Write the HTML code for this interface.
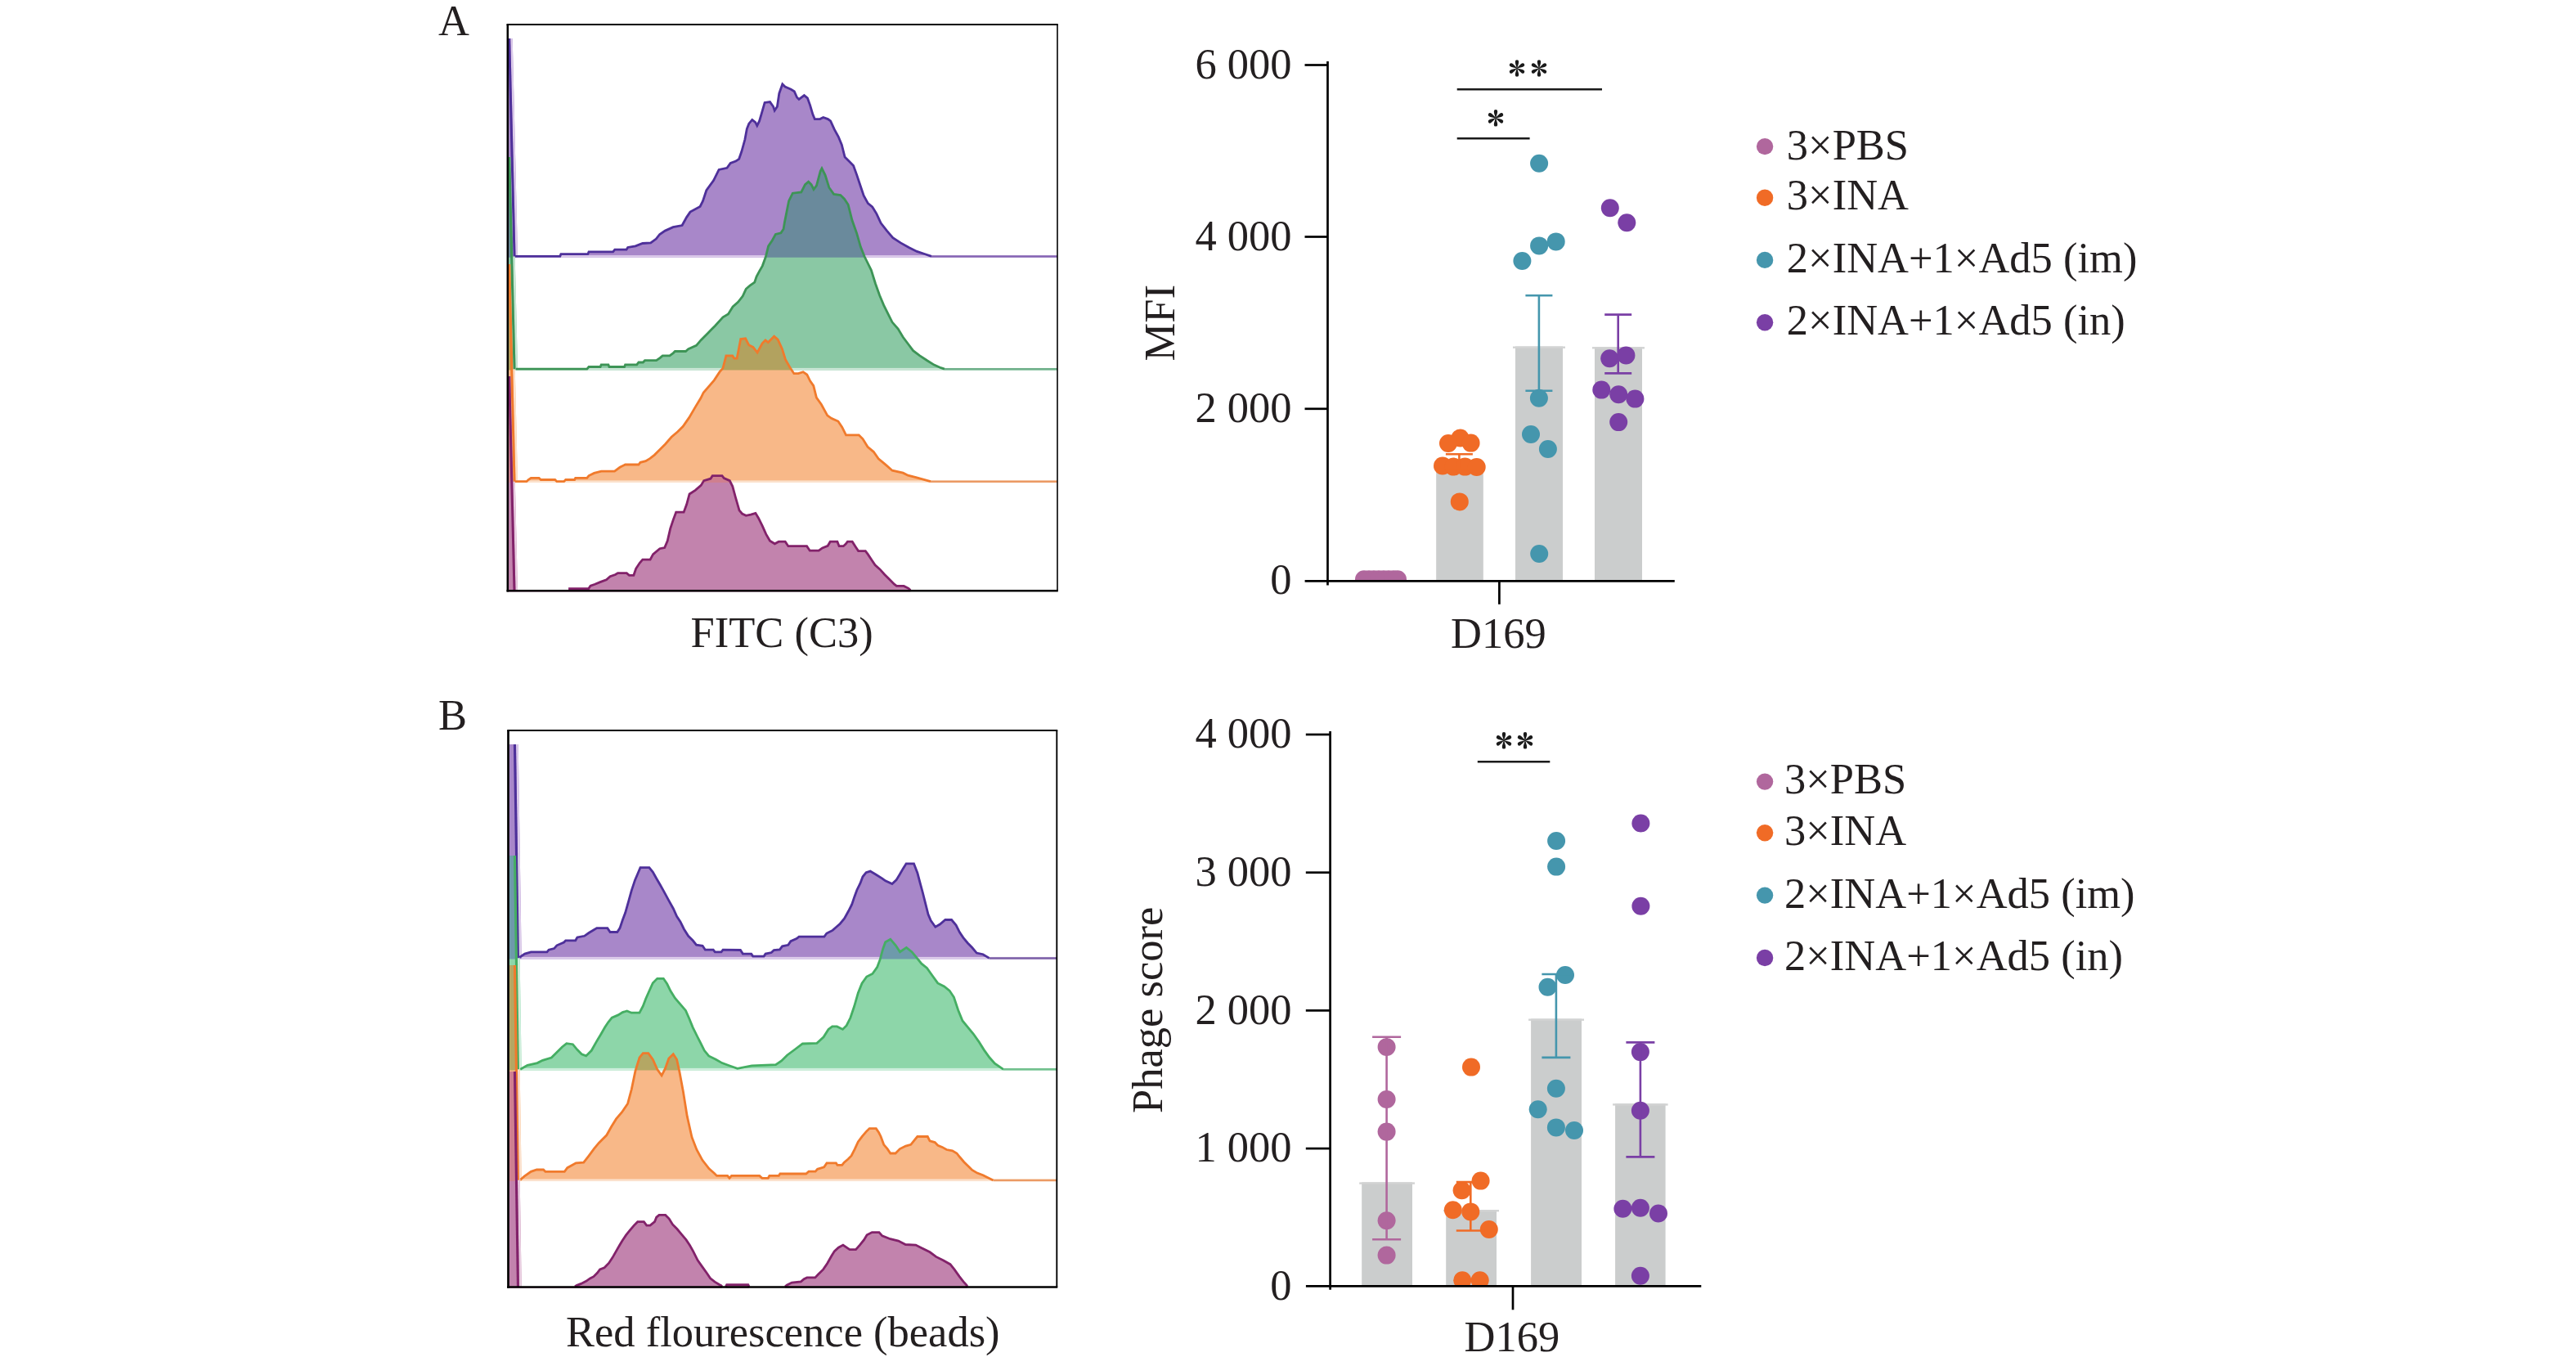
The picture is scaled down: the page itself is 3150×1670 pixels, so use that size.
<!DOCTYPE html>
<html><head><meta charset="utf-8"><style>
html,body{margin:0;padding:0;background:#fff;}
svg{display:block;}
text{font-family:"Liberation Serif", serif;fill:#231f20;}
</style></head><body>
<svg width="3150" height="1670" viewBox="0 0 3150 1670">
<defs><clipPath id="Ac0"><path d="M621.8,314.7 L621.8,47.0 L626.7,47.0 L633.0,313.4 L684.8,313.4 L685.9,310.7 L718.8,310.7 L720.0,307.9 L749.6,307.9 L751.8,305.2 L766.0,305.2 L767.7,302.4 L777.0,300.8 L785.8,297.5 L795.7,296.9 L802.3,292.0 L806.7,286.5 L813.3,282.1 L823.1,277.7 L834.1,275.5 L839.6,265.6 L844.0,259.1 L856.1,252.5 L859.4,245.9 L863.8,232.7 L872.6,220.6 L879.1,207.5 L889.0,205.3 L893.2,199.5 L899.7,197.1 L903.7,194.3 L906.9,185.0 L910.9,170.5 L913.3,157.6 L915.8,151.2 L919.8,146.4 L923.8,149.6 L925.8,153.6 L928.6,148.0 L931.9,136.7 L935.1,125.4 L941.5,124.6 L945.6,130.3 L947.2,135.1 L950.4,130.3 L952.8,114.2 L956.8,102.9 L960.0,106.1 L967.3,109.3 L971.3,111.7 L974.5,119.0 L977.0,121.4 L983.4,116.6 L987.4,119.8 L990.6,128.6 L993.9,139.9 L996.3,145.6 L1002.7,145.6 L1006.7,143.5 L1012.4,145.6 L1015.6,148.0 L1020.4,158.4 L1025.3,167.3 L1029.3,177.0 L1033.1,192.1 L1038.4,197.3 L1043.6,202.6 L1047.8,214.1 L1052.0,226.7 L1056.2,239.3 L1061.4,248.7 L1066.7,252.9 L1071.9,261.3 L1077.2,272.8 L1084.5,282.2 L1091.8,290.6 L1101.3,296.9 L1111.8,302.7 L1121.2,307.4 L1130.6,310.5 L1139.0,313.4 L1293.0,313.4 L1293.0,314.7Z"/></clipPath><clipPath id="Ac1"><path d="M621.8,452.5 L621.8,192.0 L626.7,192.0 L633.0,451.2 L717.8,451.2 L720.0,448.5 L734.1,448.5 L735.2,445.8 L743.9,445.8 L745.0,448.5 L763.5,448.5 L764.6,445.8 L778.7,445.8 L780.9,443.0 L786.3,443.0 L788.5,440.7 L802.6,440.7 L807.0,437.6 L810.2,434.9 L818.9,434.9 L823.3,431.6 L825.4,429.5 L838.5,429.5 L841.7,426.7 L851.5,422.4 L857.0,415.9 L865.7,407.2 L870.0,402.8 L874.3,398.5 L884.0,387.9 L890.5,383.9 L896.1,375.0 L902.5,369.4 L908.2,362.1 L912.2,353.3 L917.0,349.2 L922.7,345.2 L925.1,338.0 L929.1,330.7 L932.3,325.1 L936.4,313.8 L939.6,300.9 L944.4,293.7 L948.4,286.4 L954.9,284.8 L958.1,280.0 L959.3,272.5 L964.6,245.6 L969.3,236.2 L979.8,235.0 L984.5,225.7 L988.6,222.2 L992.1,225.7 L995.0,231.5 L998.5,226.8 L1003.2,209.3 L1005.0,205.8 L1009.1,214.0 L1013.8,229.2 L1019.6,237.4 L1027.8,238.5 L1032.5,243.2 L1037.2,250.3 L1041.9,269.0 L1047.7,285.4 L1052.4,301.8 L1057.1,313.5 L1060.3,320.0 L1065.4,330.3 L1070.5,346.7 L1075.6,361.0 L1080.8,373.3 L1085.9,383.6 L1091.0,393.8 L1098.2,402.0 L1104.3,412.3 L1110.5,420.5 L1116.6,428.7 L1124.8,434.8 L1134.1,441.0 L1142.3,446.1 L1150.5,449.7 L1155.0,451.2 L1293.0,451.2 L1293.0,452.5Z"/></clipPath><clipPath id="Ac2"><path d="M621.8,590.0 L621.8,323.0 L626.7,323.0 L633.0,588.7 L643.9,588.7 L646.1,586.5 L649.3,584.3 L659.1,584.3 L661.3,586.5 L678.7,586.5 L680.9,588.7 L689.6,588.7 L691.7,586.5 L702.6,586.5 L703.7,584.3 L717.8,584.3 L720.0,581.6 L726.5,578.4 L735.2,576.2 L751.5,576.2 L758.0,571.3 L764.6,568.0 L780.9,568.0 L783.0,565.3 L789.6,563.7 L795.0,560.4 L800.4,556.1 L807.0,549.6 L813.5,543.0 L821.1,534.3 L828.7,527.8 L835.2,521.3 L842.8,510.4 L850.4,497.4 L857.0,486.5 L860.2,480.0 L873.3,464.8 L880.0,454.7 L884.0,450.1 L887.9,434.9 L895.8,434.9 L897.8,438.2 L901.1,438.2 L905.7,414.5 L911.6,413.8 L915.6,421.7 L920.9,424.4 L926.1,431.0 L932.1,419.8 L936.0,415.8 L939.3,418.5 L946.6,411.2 L951.2,415.2 L956.4,426.4 L960.4,439.5 L965.7,448.8 L970.9,456.7 L976.2,456.7 L982.1,454.7 L986.8,458.0 L990.7,465.9 L994.8,471.7 L998.4,486.1 L1004.4,494.5 L1011.7,507.8 L1016.5,511.4 L1024.9,515.0 L1029.7,522.2 L1034.5,531.8 L1050.2,531.8 L1055.0,536.6 L1061.0,546.3 L1068.2,552.3 L1074.2,560.7 L1082.7,567.9 L1091.1,575.2 L1104.3,578.2 L1110.3,581.2 L1120.0,583.6 L1138.0,588.7 L1293.0,588.7 L1293.0,590.0Z"/></clipPath><clipPath id="Ac3"><path d="M621.8,723.6 L621.8,460.0 L626.7,460.0 L633.0,722.3 L696.5,721.5 L696.5,719.6 L719.8,719.6 L722.1,716.1 L727.5,714.2 L734.5,711.4 L741.5,708.7 L746.1,704.8 L752.4,702.5 L755.5,700.6 L766.3,700.6 L769.4,703.3 L774.9,703.3 L777.6,695.3 L782.2,688.3 L785.8,684.2 L795.1,684.2 L798.6,677.7 L806.8,670.7 L812.7,669.5 L816.2,661.3 L819.7,646.1 L823.2,635.6 L826.7,626.2 L836.1,626.2 L839.6,616.8 L843.1,604.0 L850.2,599.3 L857.2,593.4 L860.7,587.6 L868.9,585.2 L871.2,581.7 L883.0,581.7 L885.3,584.6 L892.3,587.6 L895.8,594.6 L899.3,607.5 L904.0,623.9 L907.5,628.0 L912.2,630.3 L918.1,629.1 L923.9,627.4 L927.4,633.2 L932.1,642.6 L936.8,653.1 L941.5,661.3 L947.4,664.8 L952.2,662.2 L960.2,662.2 L963.9,667.7 L986.6,667.7 L990.3,673.2 L1001.2,673.2 L1005.6,669.9 L1012.2,667.3 L1015.2,662.2 L1023.9,662.2 L1026.1,667.7 L1031.3,667.7 L1034.2,665.1 L1036.4,662.2 L1042.2,662.2 L1045.9,668.1 L1049.6,673.6 L1058.3,673.6 L1061.3,677.6 L1065.7,684.2 L1070.1,690.8 L1075.9,695.9 L1081.8,702.5 L1087.6,708.3 L1093.5,714.2 L1096.4,716.4 L1105.2,716.4 L1111.0,719.3 L1113.3,721.5 L1113.3,723.6Z"/></clipPath><clipPath id="Bc0"><path d="M622.5,1172.5 L622.5,910.0 L633.7,910.0 L637.7,1171.2 L641.7,1166.1 L649.3,1163.9 L668.9,1163.9 L671.1,1161.2 L677.6,1159.6 L680.9,1155.8 L689.6,1152.0 L691.7,1149.8 L703.7,1149.8 L705.9,1146.0 L714.6,1144.3 L720.0,1140.5 L725.4,1137.3 L729.8,1134.6 L742.8,1134.6 L746.1,1139.5 L754.8,1139.5 L758.0,1134.6 L761.3,1124.8 L764.6,1116.1 L768.9,1100.9 L772.2,1088.9 L776.5,1075.9 L779.8,1068.3 L783.0,1060.7 L793.9,1060.7 L798.3,1066.1 L802.6,1073.7 L807.0,1081.3 L811.3,1088.9 L817.8,1100.9 L823.3,1110.7 L827.6,1120.4 L832.0,1127.0 L836.3,1135.7 L841.7,1144.3 L847.2,1149.8 L851.5,1155.2 L859.1,1156.3 L862.4,1161.2 L872.2,1161.2 L874.3,1163.9 L882.0,1163.9 L884.1,1161.2 L905.4,1161.5 L908.4,1166.1 L918.7,1166.1 L920.7,1169.1 L934.1,1169.1 L936.1,1166.1 L943.3,1164.5 L946.4,1161.5 L953.5,1160.9 L956.6,1156.8 L963.8,1155.3 L966.9,1150.7 L974.0,1147.6 L977.1,1145.1 L1007.9,1145.1 L1010.9,1141.0 L1018.1,1137.4 L1022.2,1133.8 L1027.3,1129.2 L1032.5,1123.0 L1037.6,1113.8 L1041.7,1105.6 L1044.8,1096.4 L1047.8,1088.2 L1051.9,1080.0 L1055.0,1071.8 L1059.1,1066.6 L1064.2,1065.1 L1070.4,1068.7 L1078.6,1073.8 L1082.7,1076.9 L1090.9,1080.5 L1096.0,1075.9 L1099.9,1069.5 L1104.3,1061.9 L1108.1,1055.8 L1117.5,1055.8 L1121.9,1067.3 L1125.1,1079.4 L1128.4,1091.5 L1131.7,1104.7 L1135.0,1117.9 L1138.3,1125.6 L1143.8,1133.2 L1149.3,1130.0 L1155.9,1124.5 L1163.6,1124.5 L1169.1,1131.0 L1173.5,1139.8 L1177.9,1146.4 L1183.4,1153.0 L1188.8,1158.5 L1194.3,1165.1 L1202.0,1166.7 L1209.7,1171.4 L1292.5,1171.4 L1292.5,1172.5Z"/></clipPath><clipPath id="Bc1"><path d="M622.5,1308.5 L622.5,1046.0 L633.7,1046.0 L637.7,1307.2 L645.0,1302.3 L657.0,1299.6 L663.5,1296.3 L674.3,1293.0 L680.9,1286.5 L687.4,1280.0 L692.8,1275.7 L700.4,1276.7 L705.9,1283.3 L711.3,1288.7 L716.7,1290.9 L723.3,1284.3 L728.7,1274.6 L735.2,1263.7 L739.6,1256.1 L743.9,1249.6 L748.3,1244.1 L755.9,1240.9 L761.3,1237.6 L766.7,1236.0 L772.2,1238.2 L782.0,1238.2 L786.3,1230.0 L789.6,1221.3 L793.9,1211.5 L798.3,1201.7 L803.7,1196.3 L811.3,1196.3 L815.7,1202.8 L820.0,1211.5 L825.4,1220.2 L832.0,1227.8 L838.5,1235.4 L842.8,1245.2 L847.2,1256.1 L852.6,1267.0 L857.0,1275.7 L861.3,1284.3 L866.7,1290.9 L875.4,1295.2 L883.0,1299.6 L891.7,1302.8 L901.7,1306.4 L919.3,1302.9 L948.6,1301.7 L955.6,1297.0 L962.6,1290.0 L972.0,1283.0 L981.4,1276.0 L998.9,1275.4 L1007.1,1267.8 L1013.0,1258.4 L1017.7,1254.9 L1023.5,1254.9 L1030.5,1258.4 L1035.2,1253.7 L1039.9,1244.3 L1044.6,1230.3 L1049.3,1213.9 L1054.0,1202.2 L1059.8,1194.0 L1066.9,1190.5 L1072.7,1182.3 L1076.2,1172.9 L1079.7,1160.0 L1082.7,1151.7 L1088.8,1148.2 L1095.3,1155.8 L1100.5,1163.7 L1108.4,1158.4 L1115.0,1163.7 L1121.6,1171.6 L1126.9,1178.2 L1133.5,1183.5 L1140.1,1192.7 L1146.7,1201.9 L1154.6,1205.9 L1161.1,1211.1 L1166.4,1219.1 L1171.7,1234.9 L1177.0,1248.0 L1183.5,1255.9 L1190.1,1263.8 L1196.7,1273.1 L1203.3,1283.6 L1209.9,1292.8 L1216.5,1300.1 L1227.0,1307.3 L1292.5,1307.3 L1292.5,1308.5Z"/></clipPath><clipPath id="Bc2"><path d="M622.5,1444.1 L622.5,1180.0 L633.7,1180.0 L637.7,1442.8 L641.1,1438.2 L649.3,1432.3 L656.3,1430.0 L664.5,1430.0 L666.9,1432.3 L690.3,1432.3 L693.8,1427.7 L704.3,1421.8 L713.7,1421.2 L719.6,1413.6 L726.6,1404.2 L732.4,1397.2 L741.8,1387.8 L747.7,1377.3 L753.5,1367.9 L760.5,1359.7 L767.6,1349.2 L772.3,1331.6 L776.9,1309.4 L782.0,1293.0 L786.3,1287.6 L792.8,1287.6 L798.3,1295.2 L803.7,1307.2 L809.1,1314.8 L813.5,1306.1 L817.8,1294.1 L823.3,1288.7 L827.6,1295.2 L830.9,1310.4 L835.5,1335.1 L840.2,1364.4 L846.0,1390.2 L851.9,1405.4 L858.9,1418.3 L867.1,1428.8 L873.3,1434.2 L876.5,1437.4 L889.6,1437.4 L892.0,1440.3 L894.5,1437.4 L928.7,1437.4 L931.9,1440.3 L939.3,1440.3 L940.9,1437.4 L952.3,1437.4 L953.9,1435.0 L985.7,1435.0 L989.0,1432.1 L997.1,1432.1 L999.6,1429.3 L1007.7,1426.8 L1011.0,1421.9 L1022.4,1421.9 L1024.0,1424.4 L1029.7,1424.4 L1032.2,1421.1 L1037.1,1417.0 L1041.1,1413.0 L1045.2,1404.8 L1049.3,1395.9 L1054.2,1389.3 L1059.1,1383.6 L1063.2,1379.6 L1071.3,1379.6 L1074.6,1384.4 L1077.1,1389.5 L1080.7,1399.3 L1085.2,1404.6 L1088.8,1410.0 L1095.0,1410.0 L1100.4,1404.6 L1107.5,1401.1 L1113.8,1399.3 L1118.2,1393.9 L1121.8,1389.5 L1134.3,1389.5 L1137.0,1394.8 L1143.2,1396.6 L1146.8,1400.2 L1152.1,1402.4 L1157.5,1405.5 L1164.6,1406.9 L1170.0,1410.0 L1173.6,1414.5 L1178.9,1420.7 L1184.3,1426.1 L1188.8,1430.5 L1195.0,1434.1 L1202.1,1436.8 L1207.5,1439.5 L1214.6,1443.0 L1292.3,1443.0 L1292.3,1444.1Z"/></clipPath><clipPath id="Bc3"><path d="M622.5,1574.8 L622.5,1310.0 L633.7,1310.0 L637.7,1573.5 L703.0,1573.0 L705.0,1571.6 L710.5,1569.4 L717.1,1566.1 L721.5,1562.9 L725.9,1560.7 L730.3,1556.3 L733.6,1551.9 L739.1,1549.7 L744.5,1544.2 L748.9,1537.6 L753.3,1529.9 L757.7,1522.2 L761.0,1516.7 L765.4,1510.1 L769.8,1504.7 L775.3,1498.1 L779.7,1493.7 L787.4,1493.7 L790.7,1498.1 L795.0,1498.1 L800.5,1493.7 L802.7,1488.2 L806.0,1485.4 L813.7,1485.4 L818.1,1489.8 L822.5,1497.0 L828.0,1502.5 L833.5,1509.1 L839.0,1515.6 L843.4,1522.2 L847.7,1529.9 L853.2,1540.9 L858.7,1548.6 L864.2,1556.3 L868.6,1562.9 L874.1,1567.2 L879.6,1570.5 L881.8,1571.6 L883.0,1573.0 L883.0,1574.8Z M887.5,1574.8 L887.5,1573.0 L888.7,1570.6 L914.8,1570.6 L916.0,1573.0 L916.0,1574.8Z M960.0,1574.8 L960.0,1573.0 L962.0,1571.2 L968.2,1568.1 L979.4,1566.8 L983.1,1563.7 L986.8,1561.9 L996.8,1561.9 L1000.5,1558.1 L1006.7,1551.9 L1011.7,1544.5 L1016.6,1535.8 L1020.4,1529.6 L1025.3,1525.2 L1030.9,1522.1 L1035.3,1525.2 L1039.0,1527.7 L1046.5,1527.7 L1051.4,1522.1 L1056.4,1515.9 L1060.1,1509.7 L1066.3,1506.6 L1075.0,1506.6 L1078.8,1510.9 L1088.7,1514.7 L1098.6,1517.1 L1107.3,1521.5 L1119.8,1522.1 L1126.0,1525.2 L1137.1,1530.8 L1144.6,1536.4 L1153.3,1540.7 L1162.0,1545.7 L1167.0,1551.9 L1173.2,1560.6 L1178.1,1566.8 L1181.9,1571.2 L1183.0,1573.0 L1183.0,1574.8Z"/></clipPath><clipPath id="pinkclipA"><rect x="1600" y="600" width="200" height="110.5"/></clipPath><clipPath id="clipB"><rect x="1600" y="850" width="500" height="722.5"/></clipPath></defs>
<rect width="3150" height="1670" fill="#fff"/>
<polygon points="621.8,314.7 621.8,47.0 626.7,47.0 633.0,313.4 684.8,313.4 685.9,310.7 718.8,310.7 720.0,307.9 749.6,307.9 751.8,305.2 766.0,305.2 767.7,302.4 777.0,300.8 785.8,297.5 795.7,296.9 802.3,292.0 806.7,286.5 813.3,282.1 823.1,277.7 834.1,275.5 839.6,265.6 844.0,259.1 856.1,252.5 859.4,245.9 863.8,232.7 872.6,220.6 879.1,207.5 889.0,205.3 893.2,199.5 899.7,197.1 903.7,194.3 906.9,185.0 910.9,170.5 913.3,157.6 915.8,151.2 919.8,146.4 923.8,149.6 925.8,153.6 928.6,148.0 931.9,136.7 935.1,125.4 941.5,124.6 945.6,130.3 947.2,135.1 950.4,130.3 952.8,114.2 956.8,102.9 960.0,106.1 967.3,109.3 971.3,111.7 974.5,119.0 977.0,121.4 983.4,116.6 987.4,119.8 990.6,128.6 993.9,139.9 996.3,145.6 1002.7,145.6 1006.7,143.5 1012.4,145.6 1015.6,148.0 1020.4,158.4 1025.3,167.3 1029.3,177.0 1033.1,192.1 1038.4,197.3 1043.6,202.6 1047.8,214.1 1052.0,226.7 1056.2,239.3 1061.4,248.7 1066.7,252.9 1071.9,261.3 1077.2,272.8 1084.5,282.2 1091.8,290.6 1101.3,296.9 1111.8,302.7 1121.2,307.4 1130.6,310.5 1139.0,313.4 1293.0,313.4 1293.0,314.7" fill="#a887c9"/>
<rect x="633.0" y="312.1" width="660.0" height="2.6" fill="#dccbea"/>
<polygon points="621.8,452.5 621.8,192.0 626.7,192.0 633.0,451.2 717.8,451.2 720.0,448.5 734.1,448.5 735.2,445.8 743.9,445.8 745.0,448.5 763.5,448.5 764.6,445.8 778.7,445.8 780.9,443.0 786.3,443.0 788.5,440.7 802.6,440.7 807.0,437.6 810.2,434.9 818.9,434.9 823.3,431.6 825.4,429.5 838.5,429.5 841.7,426.7 851.5,422.4 857.0,415.9 865.7,407.2 870.0,402.8 874.3,398.5 884.0,387.9 890.5,383.9 896.1,375.0 902.5,369.4 908.2,362.1 912.2,353.3 917.0,349.2 922.7,345.2 925.1,338.0 929.1,330.7 932.3,325.1 936.4,313.8 939.6,300.9 944.4,293.7 948.4,286.4 954.9,284.8 958.1,280.0 959.3,272.5 964.6,245.6 969.3,236.2 979.8,235.0 984.5,225.7 988.6,222.2 992.1,225.7 995.0,231.5 998.5,226.8 1003.2,209.3 1005.0,205.8 1009.1,214.0 1013.8,229.2 1019.6,237.4 1027.8,238.5 1032.5,243.2 1037.2,250.3 1041.9,269.0 1047.7,285.4 1052.4,301.8 1057.1,313.5 1060.3,320.0 1065.4,330.3 1070.5,346.7 1075.6,361.0 1080.8,373.3 1085.9,383.6 1091.0,393.8 1098.2,402.0 1104.3,412.3 1110.5,420.5 1116.6,428.7 1124.8,434.8 1134.1,441.0 1142.3,446.1 1150.5,449.7 1155.0,451.2 1293.0,451.2 1293.0,452.5" fill="#8ac8a4"/>
<polygon points="621.8,452.5 621.8,192.0 626.7,192.0 633.0,451.2 717.8,451.2 720.0,448.5 734.1,448.5 735.2,445.8 743.9,445.8 745.0,448.5 763.5,448.5 764.6,445.8 778.7,445.8 780.9,443.0 786.3,443.0 788.5,440.7 802.6,440.7 807.0,437.6 810.2,434.9 818.9,434.9 823.3,431.6 825.4,429.5 838.5,429.5 841.7,426.7 851.5,422.4 857.0,415.9 865.7,407.2 870.0,402.8 874.3,398.5 884.0,387.9 890.5,383.9 896.1,375.0 902.5,369.4 908.2,362.1 912.2,353.3 917.0,349.2 922.7,345.2 925.1,338.0 929.1,330.7 932.3,325.1 936.4,313.8 939.6,300.9 944.4,293.7 948.4,286.4 954.9,284.8 958.1,280.0 959.3,272.5 964.6,245.6 969.3,236.2 979.8,235.0 984.5,225.7 988.6,222.2 992.1,225.7 995.0,231.5 998.5,226.8 1003.2,209.3 1005.0,205.8 1009.1,214.0 1013.8,229.2 1019.6,237.4 1027.8,238.5 1032.5,243.2 1037.2,250.3 1041.9,269.0 1047.7,285.4 1052.4,301.8 1057.1,313.5 1060.3,320.0 1065.4,330.3 1070.5,346.7 1075.6,361.0 1080.8,373.3 1085.9,383.6 1091.0,393.8 1098.2,402.0 1104.3,412.3 1110.5,420.5 1116.6,428.7 1124.8,434.8 1134.1,441.0 1142.3,446.1 1150.5,449.7 1155.0,451.2 1293.0,451.2 1293.0,452.5" fill="#6a8a9c" clip-path="url(#Ac0)"/>
<rect x="633.0" y="449.9" width="660.0" height="2.6" fill="#c9e6d5"/>
<polygon points="621.8,590.0 621.8,323.0 626.7,323.0 633.0,588.7 643.9,588.7 646.1,586.5 649.3,584.3 659.1,584.3 661.3,586.5 678.7,586.5 680.9,588.7 689.6,588.7 691.7,586.5 702.6,586.5 703.7,584.3 717.8,584.3 720.0,581.6 726.5,578.4 735.2,576.2 751.5,576.2 758.0,571.3 764.6,568.0 780.9,568.0 783.0,565.3 789.6,563.7 795.0,560.4 800.4,556.1 807.0,549.6 813.5,543.0 821.1,534.3 828.7,527.8 835.2,521.3 842.8,510.4 850.4,497.4 857.0,486.5 860.2,480.0 873.3,464.8 880.0,454.7 884.0,450.1 887.9,434.9 895.8,434.9 897.8,438.2 901.1,438.2 905.7,414.5 911.6,413.8 915.6,421.7 920.9,424.4 926.1,431.0 932.1,419.8 936.0,415.8 939.3,418.5 946.6,411.2 951.2,415.2 956.4,426.4 960.4,439.5 965.7,448.8 970.9,456.7 976.2,456.7 982.1,454.7 986.8,458.0 990.7,465.9 994.8,471.7 998.4,486.1 1004.4,494.5 1011.7,507.8 1016.5,511.4 1024.9,515.0 1029.7,522.2 1034.5,531.8 1050.2,531.8 1055.0,536.6 1061.0,546.3 1068.2,552.3 1074.2,560.7 1082.7,567.9 1091.1,575.2 1104.3,578.2 1110.3,581.2 1120.0,583.6 1138.0,588.7 1293.0,588.7 1293.0,590.0" fill="#f8b888"/>
<polygon points="621.8,590.0 621.8,323.0 626.7,323.0 633.0,588.7 643.9,588.7 646.1,586.5 649.3,584.3 659.1,584.3 661.3,586.5 678.7,586.5 680.9,588.7 689.6,588.7 691.7,586.5 702.6,586.5 703.7,584.3 717.8,584.3 720.0,581.6 726.5,578.4 735.2,576.2 751.5,576.2 758.0,571.3 764.6,568.0 780.9,568.0 783.0,565.3 789.6,563.7 795.0,560.4 800.4,556.1 807.0,549.6 813.5,543.0 821.1,534.3 828.7,527.8 835.2,521.3 842.8,510.4 850.4,497.4 857.0,486.5 860.2,480.0 873.3,464.8 880.0,454.7 884.0,450.1 887.9,434.9 895.8,434.9 897.8,438.2 901.1,438.2 905.7,414.5 911.6,413.8 915.6,421.7 920.9,424.4 926.1,431.0 932.1,419.8 936.0,415.8 939.3,418.5 946.6,411.2 951.2,415.2 956.4,426.4 960.4,439.5 965.7,448.8 970.9,456.7 976.2,456.7 982.1,454.7 986.8,458.0 990.7,465.9 994.8,471.7 998.4,486.1 1004.4,494.5 1011.7,507.8 1016.5,511.4 1024.9,515.0 1029.7,522.2 1034.5,531.8 1050.2,531.8 1055.0,536.6 1061.0,546.3 1068.2,552.3 1074.2,560.7 1082.7,567.9 1091.1,575.2 1104.3,578.2 1110.3,581.2 1120.0,583.6 1138.0,588.7 1293.0,588.7 1293.0,590.0" fill="#b2a25f" clip-path="url(#Ac1)"/>
<rect x="633.0" y="587.4" width="660.0" height="2.6" fill="#fbe1cc"/>
<polygon points="621.8,723.6 621.8,460.0 626.7,460.0 633.0,722.3 696.5,721.5 696.5,719.6 719.8,719.6 722.1,716.1 727.5,714.2 734.5,711.4 741.5,708.7 746.1,704.8 752.4,702.5 755.5,700.6 766.3,700.6 769.4,703.3 774.9,703.3 777.6,695.3 782.2,688.3 785.8,684.2 795.1,684.2 798.6,677.7 806.8,670.7 812.7,669.5 816.2,661.3 819.7,646.1 823.2,635.6 826.7,626.2 836.1,626.2 839.6,616.8 843.1,604.0 850.2,599.3 857.2,593.4 860.7,587.6 868.9,585.2 871.2,581.7 883.0,581.7 885.3,584.6 892.3,587.6 895.8,594.6 899.3,607.5 904.0,623.9 907.5,628.0 912.2,630.3 918.1,629.1 923.9,627.4 927.4,633.2 932.1,642.6 936.8,653.1 941.5,661.3 947.4,664.8 952.2,662.2 960.2,662.2 963.9,667.7 986.6,667.7 990.3,673.2 1001.2,673.2 1005.6,669.9 1012.2,667.3 1015.2,662.2 1023.9,662.2 1026.1,667.7 1031.3,667.7 1034.2,665.1 1036.4,662.2 1042.2,662.2 1045.9,668.1 1049.6,673.6 1058.3,673.6 1061.3,677.6 1065.7,684.2 1070.1,690.8 1075.9,695.9 1081.8,702.5 1087.6,708.3 1093.5,714.2 1096.4,716.4 1105.2,716.4 1111.0,719.3 1113.3,721.5 1113.3,723.6" fill="#c283ad"/>
<polygon points="621.8,723.6 621.8,460.0 626.7,460.0 633.0,722.3 696.5,721.5 696.5,719.6 719.8,719.6 722.1,716.1 727.5,714.2 734.5,711.4 741.5,708.7 746.1,704.8 752.4,702.5 755.5,700.6 766.3,700.6 769.4,703.3 774.9,703.3 777.6,695.3 782.2,688.3 785.8,684.2 795.1,684.2 798.6,677.7 806.8,670.7 812.7,669.5 816.2,661.3 819.7,646.1 823.2,635.6 826.7,626.2 836.1,626.2 839.6,616.8 843.1,604.0 850.2,599.3 857.2,593.4 860.7,587.6 868.9,585.2 871.2,581.7 883.0,581.7 885.3,584.6 892.3,587.6 895.8,594.6 899.3,607.5 904.0,623.9 907.5,628.0 912.2,630.3 918.1,629.1 923.9,627.4 927.4,633.2 932.1,642.6 936.8,653.1 941.5,661.3 947.4,664.8 952.2,662.2 960.2,662.2 963.9,667.7 986.6,667.7 990.3,673.2 1001.2,673.2 1005.6,669.9 1012.2,667.3 1015.2,662.2 1023.9,662.2 1026.1,667.7 1031.3,667.7 1034.2,665.1 1036.4,662.2 1042.2,662.2 1045.9,668.1 1049.6,673.6 1058.3,673.6 1061.3,677.6 1065.7,684.2 1070.1,690.8 1075.9,695.9 1081.8,702.5 1087.6,708.3 1093.5,714.2 1096.4,716.4 1105.2,716.4 1111.0,719.3 1113.3,721.5 1113.3,723.6" fill="#cf7f8f" clip-path="url(#Ac2)"/>
<polygon points="624.2,47 626.7,47 633.0,313.4 630.5,313.4" fill="#dccbea"/>
<polygon points="624.2,192 626.7,192 633.0,451.2 630.5,451.2" fill="#c9e6d5"/>
<polygon points="624.2,323 626.7,323 633.0,588.7 630.5,588.7" fill="#fbe1cc"/>
<polygon points="624.2,460 626.7,460 633.0,722.3 630.5,722.3" fill="#e8cde0"/>
<polygon points="621.2,47 624.2,47 630.5,313.4 627.5,313.4" fill="#4e309a"/>
<polygon points="621.2,192 624.2,192 630.5,451.2 627.5,451.2" fill="#3d9456"/>
<polygon points="621.2,323 624.2,323 630.5,588.7 627.5,588.7" fill="#f07a2c"/>
<polygon points="621.2,460 624.2,460 630.5,722.3 627.5,722.3" fill="#82226a"/>
<polyline points="630.0,313.4 684.8,313.4 685.9,310.7 718.8,310.7 720.0,307.9 749.6,307.9 751.8,305.2 766.0,305.2 767.7,302.4 777.0,300.8 785.8,297.5 795.7,296.9 802.3,292.0 806.7,286.5 813.3,282.1 823.1,277.7 834.1,275.5 839.6,265.6 844.0,259.1 856.1,252.5 859.4,245.9 863.8,232.7 872.6,220.6 879.1,207.5 889.0,205.3 893.2,199.5 899.7,197.1 903.7,194.3 906.9,185.0 910.9,170.5 913.3,157.6 915.8,151.2 919.8,146.4 923.8,149.6 925.8,153.6 928.6,148.0 931.9,136.7 935.1,125.4 941.5,124.6 945.6,130.3 947.2,135.1 950.4,130.3 952.8,114.2 956.8,102.9 960.0,106.1 967.3,109.3 971.3,111.7 974.5,119.0 977.0,121.4 983.4,116.6 987.4,119.8 990.6,128.6 993.9,139.9 996.3,145.6 1002.7,145.6 1006.7,143.5 1012.4,145.6 1015.6,148.0 1020.4,158.4 1025.3,167.3 1029.3,177.0 1033.1,192.1 1038.4,197.3 1043.6,202.6 1047.8,214.1 1052.0,226.7 1056.2,239.3 1061.4,248.7 1066.7,252.9 1071.9,261.3 1077.2,272.8 1084.5,282.2 1091.8,290.6 1101.3,296.9 1111.8,302.7 1121.2,307.4 1130.6,310.5 1139.0,313.4" fill="none" stroke="#4e309a" stroke-width="2.8" stroke-linejoin="miter" stroke-miterlimit="3"/>
<polyline points="1139.0,313.4 1293.0,313.4" fill="none" stroke="#8666b4" stroke-width="2.5"/>
<polyline points="630.9,451.2 717.8,451.2 720.0,448.5 734.1,448.5 735.2,445.8 743.9,445.8 745.0,448.5 763.5,448.5 764.6,445.8 778.7,445.8 780.9,443.0 786.3,443.0 788.5,440.7 802.6,440.7 807.0,437.6 810.2,434.9 818.9,434.9 823.3,431.6 825.4,429.5 838.5,429.5 841.7,426.7 851.5,422.4 857.0,415.9 865.7,407.2 870.0,402.8 874.3,398.5 884.0,387.9 890.5,383.9 896.1,375.0 902.5,369.4 908.2,362.1 912.2,353.3 917.0,349.2 922.7,345.2 925.1,338.0 929.1,330.7 932.3,325.1 936.4,313.8 939.6,300.9 944.4,293.7 948.4,286.4 954.9,284.8 958.1,280.0 959.3,272.5 964.6,245.6 969.3,236.2 979.8,235.0 984.5,225.7 988.6,222.2 992.1,225.7 995.0,231.5 998.5,226.8 1003.2,209.3 1005.0,205.8 1009.1,214.0 1013.8,229.2 1019.6,237.4 1027.8,238.5 1032.5,243.2 1037.2,250.3 1041.9,269.0 1047.7,285.4 1052.4,301.8 1057.1,313.5 1060.3,320.0 1065.4,330.3 1070.5,346.7 1075.6,361.0 1080.8,373.3 1085.9,383.6 1091.0,393.8 1098.2,402.0 1104.3,412.3 1110.5,420.5 1116.6,428.7 1124.8,434.8 1134.1,441.0 1142.3,446.1 1150.5,449.7 1155.0,451.2" fill="none" stroke="#3d9456" stroke-width="2.8" stroke-linejoin="miter" stroke-miterlimit="3"/>
<polyline points="1155.0,451.2 1293.0,451.2" fill="none" stroke="#6fb08a" stroke-width="2.5"/>
<polyline points="629.8,588.7 643.9,588.7 646.1,586.5 649.3,584.3 659.1,584.3 661.3,586.5 678.7,586.5 680.9,588.7 689.6,588.7 691.7,586.5 702.6,586.5 703.7,584.3 717.8,584.3 720.0,581.6 726.5,578.4 735.2,576.2 751.5,576.2 758.0,571.3 764.6,568.0 780.9,568.0 783.0,565.3 789.6,563.7 795.0,560.4 800.4,556.1 807.0,549.6 813.5,543.0 821.1,534.3 828.7,527.8 835.2,521.3 842.8,510.4 850.4,497.4 857.0,486.5 860.2,480.0 873.3,464.8 880.0,454.7 884.0,450.1 887.9,434.9 895.8,434.9 897.8,438.2 901.1,438.2 905.7,414.5 911.6,413.8 915.6,421.7 920.9,424.4 926.1,431.0 932.1,419.8 936.0,415.8 939.3,418.5 946.6,411.2 951.2,415.2 956.4,426.4 960.4,439.5 965.7,448.8 970.9,456.7 976.2,456.7 982.1,454.7 986.8,458.0 990.7,465.9 994.8,471.7 998.4,486.1 1004.4,494.5 1011.7,507.8 1016.5,511.4 1024.9,515.0 1029.7,522.2 1034.5,531.8 1050.2,531.8 1055.0,536.6 1061.0,546.3 1068.2,552.3 1074.2,560.7 1082.7,567.9 1091.1,575.2 1104.3,578.2 1110.3,581.2 1120.0,583.6 1138.0,588.7" fill="none" stroke="#f07a2c" stroke-width="2.8" stroke-linejoin="miter" stroke-miterlimit="3"/>
<polyline points="1138.0,588.7 1293.0,588.7" fill="none" stroke="#eb9a64" stroke-width="2.5"/>
<polyline points="696.5,721.5 696.5,719.6 719.8,719.6 722.1,716.1 727.5,714.2 734.5,711.4 741.5,708.7 746.1,704.8 752.4,702.5 755.5,700.6 766.3,700.6 769.4,703.3 774.9,703.3 777.6,695.3 782.2,688.3 785.8,684.2 795.1,684.2 798.6,677.7 806.8,670.7 812.7,669.5 816.2,661.3 819.7,646.1 823.2,635.6 826.7,626.2 836.1,626.2 839.6,616.8 843.1,604.0 850.2,599.3 857.2,593.4 860.7,587.6 868.9,585.2 871.2,581.7 883.0,581.7 885.3,584.6 892.3,587.6 895.8,594.6 899.3,607.5 904.0,623.9 907.5,628.0 912.2,630.3 918.1,629.1 923.9,627.4 927.4,633.2 932.1,642.6 936.8,653.1 941.5,661.3 947.4,664.8 952.2,662.2 960.2,662.2 963.9,667.7 986.6,667.7 990.3,673.2 1001.2,673.2 1005.6,669.9 1012.2,667.3 1015.2,662.2 1023.9,662.2 1026.1,667.7 1031.3,667.7 1034.2,665.1 1036.4,662.2 1042.2,662.2 1045.9,668.1 1049.6,673.6 1058.3,673.6 1061.3,677.6 1065.7,684.2 1070.1,690.8 1075.9,695.9 1081.8,702.5 1087.6,708.3 1093.5,714.2 1096.4,716.4 1105.2,716.4 1111.0,719.3 1113.3,721.5" fill="none" stroke="#82226a" stroke-width="2.8" stroke-linejoin="miter" stroke-miterlimit="3"/>
<line x1="619.5" y1="30" x2="1293.8" y2="30" stroke="#000" stroke-width="2.0"/>
<line x1="620.8" y1="30" x2="620.8" y2="723.5999999999999" stroke="#000" stroke-width="2.5"/>
<line x1="1293" y1="30" x2="1293" y2="722.3" stroke="#000" stroke-width="1.6"/>
<line x1="619.55" y1="722.3" x2="1293.8" y2="722.3" stroke="#000" stroke-width="2.6"/>
<polygon points="622.5,1172.5 622.5,910.0 633.7,910.0 637.7,1171.2 641.7,1166.1 649.3,1163.9 668.9,1163.9 671.1,1161.2 677.6,1159.6 680.9,1155.8 689.6,1152.0 691.7,1149.8 703.7,1149.8 705.9,1146.0 714.6,1144.3 720.0,1140.5 725.4,1137.3 729.8,1134.6 742.8,1134.6 746.1,1139.5 754.8,1139.5 758.0,1134.6 761.3,1124.8 764.6,1116.1 768.9,1100.9 772.2,1088.9 776.5,1075.9 779.8,1068.3 783.0,1060.7 793.9,1060.7 798.3,1066.1 802.6,1073.7 807.0,1081.3 811.3,1088.9 817.8,1100.9 823.3,1110.7 827.6,1120.4 832.0,1127.0 836.3,1135.7 841.7,1144.3 847.2,1149.8 851.5,1155.2 859.1,1156.3 862.4,1161.2 872.2,1161.2 874.3,1163.9 882.0,1163.9 884.1,1161.2 905.4,1161.5 908.4,1166.1 918.7,1166.1 920.7,1169.1 934.1,1169.1 936.1,1166.1 943.3,1164.5 946.4,1161.5 953.5,1160.9 956.6,1156.8 963.8,1155.3 966.9,1150.7 974.0,1147.6 977.1,1145.1 1007.9,1145.1 1010.9,1141.0 1018.1,1137.4 1022.2,1133.8 1027.3,1129.2 1032.5,1123.0 1037.6,1113.8 1041.7,1105.6 1044.8,1096.4 1047.8,1088.2 1051.9,1080.0 1055.0,1071.8 1059.1,1066.6 1064.2,1065.1 1070.4,1068.7 1078.6,1073.8 1082.7,1076.9 1090.9,1080.5 1096.0,1075.9 1099.9,1069.5 1104.3,1061.9 1108.1,1055.8 1117.5,1055.8 1121.9,1067.3 1125.1,1079.4 1128.4,1091.5 1131.7,1104.7 1135.0,1117.9 1138.3,1125.6 1143.8,1133.2 1149.3,1130.0 1155.9,1124.5 1163.6,1124.5 1169.1,1131.0 1173.5,1139.8 1177.9,1146.4 1183.4,1153.0 1188.8,1158.5 1194.3,1165.1 1202.0,1166.7 1209.7,1171.4 1292.5,1171.4 1292.5,1172.5" fill="#a887c9"/>
<rect x="637.7" y="1169.9" width="654.6" height="2.6" fill="#dccbea"/>
<polygon points="622.5,1308.5 622.5,1046.0 633.7,1046.0 637.7,1307.2 645.0,1302.3 657.0,1299.6 663.5,1296.3 674.3,1293.0 680.9,1286.5 687.4,1280.0 692.8,1275.7 700.4,1276.7 705.9,1283.3 711.3,1288.7 716.7,1290.9 723.3,1284.3 728.7,1274.6 735.2,1263.7 739.6,1256.1 743.9,1249.6 748.3,1244.1 755.9,1240.9 761.3,1237.6 766.7,1236.0 772.2,1238.2 782.0,1238.2 786.3,1230.0 789.6,1221.3 793.9,1211.5 798.3,1201.7 803.7,1196.3 811.3,1196.3 815.7,1202.8 820.0,1211.5 825.4,1220.2 832.0,1227.8 838.5,1235.4 842.8,1245.2 847.2,1256.1 852.6,1267.0 857.0,1275.7 861.3,1284.3 866.7,1290.9 875.4,1295.2 883.0,1299.6 891.7,1302.8 901.7,1306.4 919.3,1302.9 948.6,1301.7 955.6,1297.0 962.6,1290.0 972.0,1283.0 981.4,1276.0 998.9,1275.4 1007.1,1267.8 1013.0,1258.4 1017.7,1254.9 1023.5,1254.9 1030.5,1258.4 1035.2,1253.7 1039.9,1244.3 1044.6,1230.3 1049.3,1213.9 1054.0,1202.2 1059.8,1194.0 1066.9,1190.5 1072.7,1182.3 1076.2,1172.9 1079.7,1160.0 1082.7,1151.7 1088.8,1148.2 1095.3,1155.8 1100.5,1163.7 1108.4,1158.4 1115.0,1163.7 1121.6,1171.6 1126.9,1178.2 1133.5,1183.5 1140.1,1192.7 1146.7,1201.9 1154.6,1205.9 1161.1,1211.1 1166.4,1219.1 1171.7,1234.9 1177.0,1248.0 1183.5,1255.9 1190.1,1263.8 1196.7,1273.1 1203.3,1283.6 1209.9,1292.8 1216.5,1300.1 1227.0,1307.3 1292.5,1307.3 1292.5,1308.5" fill="#8dd6a9"/>
<polygon points="622.5,1308.5 622.5,1046.0 633.7,1046.0 637.7,1307.2 645.0,1302.3 657.0,1299.6 663.5,1296.3 674.3,1293.0 680.9,1286.5 687.4,1280.0 692.8,1275.7 700.4,1276.7 705.9,1283.3 711.3,1288.7 716.7,1290.9 723.3,1284.3 728.7,1274.6 735.2,1263.7 739.6,1256.1 743.9,1249.6 748.3,1244.1 755.9,1240.9 761.3,1237.6 766.7,1236.0 772.2,1238.2 782.0,1238.2 786.3,1230.0 789.6,1221.3 793.9,1211.5 798.3,1201.7 803.7,1196.3 811.3,1196.3 815.7,1202.8 820.0,1211.5 825.4,1220.2 832.0,1227.8 838.5,1235.4 842.8,1245.2 847.2,1256.1 852.6,1267.0 857.0,1275.7 861.3,1284.3 866.7,1290.9 875.4,1295.2 883.0,1299.6 891.7,1302.8 901.7,1306.4 919.3,1302.9 948.6,1301.7 955.6,1297.0 962.6,1290.0 972.0,1283.0 981.4,1276.0 998.9,1275.4 1007.1,1267.8 1013.0,1258.4 1017.7,1254.9 1023.5,1254.9 1030.5,1258.4 1035.2,1253.7 1039.9,1244.3 1044.6,1230.3 1049.3,1213.9 1054.0,1202.2 1059.8,1194.0 1066.9,1190.5 1072.7,1182.3 1076.2,1172.9 1079.7,1160.0 1082.7,1151.7 1088.8,1148.2 1095.3,1155.8 1100.5,1163.7 1108.4,1158.4 1115.0,1163.7 1121.6,1171.6 1126.9,1178.2 1133.5,1183.5 1140.1,1192.7 1146.7,1201.9 1154.6,1205.9 1161.1,1211.1 1166.4,1219.1 1171.7,1234.9 1177.0,1248.0 1183.5,1255.9 1190.1,1263.8 1196.7,1273.1 1203.3,1283.6 1209.9,1292.8 1216.5,1300.1 1227.0,1307.3 1292.5,1307.3 1292.5,1308.5" fill="#6e9aab" clip-path="url(#Bc0)"/>
<rect x="637.7" y="1305.9" width="654.6" height="2.6" fill="#cdeedb"/>
<polygon points="622.5,1444.1 622.5,1180.0 633.7,1180.0 637.7,1442.8 641.1,1438.2 649.3,1432.3 656.3,1430.0 664.5,1430.0 666.9,1432.3 690.3,1432.3 693.8,1427.7 704.3,1421.8 713.7,1421.2 719.6,1413.6 726.6,1404.2 732.4,1397.2 741.8,1387.8 747.7,1377.3 753.5,1367.9 760.5,1359.7 767.6,1349.2 772.3,1331.6 776.9,1309.4 782.0,1293.0 786.3,1287.6 792.8,1287.6 798.3,1295.2 803.7,1307.2 809.1,1314.8 813.5,1306.1 817.8,1294.1 823.3,1288.7 827.6,1295.2 830.9,1310.4 835.5,1335.1 840.2,1364.4 846.0,1390.2 851.9,1405.4 858.9,1418.3 867.1,1428.8 873.3,1434.2 876.5,1437.4 889.6,1437.4 892.0,1440.3 894.5,1437.4 928.7,1437.4 931.9,1440.3 939.3,1440.3 940.9,1437.4 952.3,1437.4 953.9,1435.0 985.7,1435.0 989.0,1432.1 997.1,1432.1 999.6,1429.3 1007.7,1426.8 1011.0,1421.9 1022.4,1421.9 1024.0,1424.4 1029.7,1424.4 1032.2,1421.1 1037.1,1417.0 1041.1,1413.0 1045.2,1404.8 1049.3,1395.9 1054.2,1389.3 1059.1,1383.6 1063.2,1379.6 1071.3,1379.6 1074.6,1384.4 1077.1,1389.5 1080.7,1399.3 1085.2,1404.6 1088.8,1410.0 1095.0,1410.0 1100.4,1404.6 1107.5,1401.1 1113.8,1399.3 1118.2,1393.9 1121.8,1389.5 1134.3,1389.5 1137.0,1394.8 1143.2,1396.6 1146.8,1400.2 1152.1,1402.4 1157.5,1405.5 1164.6,1406.9 1170.0,1410.0 1173.6,1414.5 1178.9,1420.7 1184.3,1426.1 1188.8,1430.5 1195.0,1434.1 1202.1,1436.8 1207.5,1439.5 1214.6,1443.0 1292.3,1443.0 1292.3,1444.1" fill="#f8b888"/>
<polygon points="622.5,1444.1 622.5,1180.0 633.7,1180.0 637.7,1442.8 641.1,1438.2 649.3,1432.3 656.3,1430.0 664.5,1430.0 666.9,1432.3 690.3,1432.3 693.8,1427.7 704.3,1421.8 713.7,1421.2 719.6,1413.6 726.6,1404.2 732.4,1397.2 741.8,1387.8 747.7,1377.3 753.5,1367.9 760.5,1359.7 767.6,1349.2 772.3,1331.6 776.9,1309.4 782.0,1293.0 786.3,1287.6 792.8,1287.6 798.3,1295.2 803.7,1307.2 809.1,1314.8 813.5,1306.1 817.8,1294.1 823.3,1288.7 827.6,1295.2 830.9,1310.4 835.5,1335.1 840.2,1364.4 846.0,1390.2 851.9,1405.4 858.9,1418.3 867.1,1428.8 873.3,1434.2 876.5,1437.4 889.6,1437.4 892.0,1440.3 894.5,1437.4 928.7,1437.4 931.9,1440.3 939.3,1440.3 940.9,1437.4 952.3,1437.4 953.9,1435.0 985.7,1435.0 989.0,1432.1 997.1,1432.1 999.6,1429.3 1007.7,1426.8 1011.0,1421.9 1022.4,1421.9 1024.0,1424.4 1029.7,1424.4 1032.2,1421.1 1037.1,1417.0 1041.1,1413.0 1045.2,1404.8 1049.3,1395.9 1054.2,1389.3 1059.1,1383.6 1063.2,1379.6 1071.3,1379.6 1074.6,1384.4 1077.1,1389.5 1080.7,1399.3 1085.2,1404.6 1088.8,1410.0 1095.0,1410.0 1100.4,1404.6 1107.5,1401.1 1113.8,1399.3 1118.2,1393.9 1121.8,1389.5 1134.3,1389.5 1137.0,1394.8 1143.2,1396.6 1146.8,1400.2 1152.1,1402.4 1157.5,1405.5 1164.6,1406.9 1170.0,1410.0 1173.6,1414.5 1178.9,1420.7 1184.3,1426.1 1188.8,1430.5 1195.0,1434.1 1202.1,1436.8 1207.5,1439.5 1214.6,1443.0 1292.3,1443.0 1292.3,1444.1" fill="#b4a764" clip-path="url(#Bc1)"/>
<rect x="637.7" y="1441.5" width="654.6" height="2.6" fill="#fbe1cc"/>
<polygon points="622.5,1574.8 622.5,1310.0 633.7,1310.0 637.7,1573.5 703.0,1573.0 705.0,1571.6 710.5,1569.4 717.1,1566.1 721.5,1562.9 725.9,1560.7 730.3,1556.3 733.6,1551.9 739.1,1549.7 744.5,1544.2 748.9,1537.6 753.3,1529.9 757.7,1522.2 761.0,1516.7 765.4,1510.1 769.8,1504.7 775.3,1498.1 779.7,1493.7 787.4,1493.7 790.7,1498.1 795.0,1498.1 800.5,1493.7 802.7,1488.2 806.0,1485.4 813.7,1485.4 818.1,1489.8 822.5,1497.0 828.0,1502.5 833.5,1509.1 839.0,1515.6 843.4,1522.2 847.7,1529.9 853.2,1540.9 858.7,1548.6 864.2,1556.3 868.6,1562.9 874.1,1567.2 879.6,1570.5 881.8,1571.6 883.0,1573.0 883.0,1574.8" fill="#c283ad"/>
<polygon points="887.5,1574.8 887.5,1573.0 888.7,1570.6 914.8,1570.6 916.0,1573.0 916.0,1574.8" fill="#c283ad"/>
<polygon points="960.0,1574.8 960.0,1573.0 962.0,1571.2 968.2,1568.1 979.4,1566.8 983.1,1563.7 986.8,1561.9 996.8,1561.9 1000.5,1558.1 1006.7,1551.9 1011.7,1544.5 1016.6,1535.8 1020.4,1529.6 1025.3,1525.2 1030.9,1522.1 1035.3,1525.2 1039.0,1527.7 1046.5,1527.7 1051.4,1522.1 1056.4,1515.9 1060.1,1509.7 1066.3,1506.6 1075.0,1506.6 1078.8,1510.9 1088.7,1514.7 1098.6,1517.1 1107.3,1521.5 1119.8,1522.1 1126.0,1525.2 1137.1,1530.8 1144.6,1536.4 1153.3,1540.7 1162.0,1545.7 1167.0,1551.9 1173.2,1560.6 1178.1,1566.8 1181.9,1571.2 1183.0,1573.0 1183.0,1574.8" fill="#c283ad"/>
<polygon points="622.5,1574.8 622.5,1310.0 633.7,1310.0 637.7,1573.5 703.0,1573.0 705.0,1571.6 710.5,1569.4 717.1,1566.1 721.5,1562.9 725.9,1560.7 730.3,1556.3 733.6,1551.9 739.1,1549.7 744.5,1544.2 748.9,1537.6 753.3,1529.9 757.7,1522.2 761.0,1516.7 765.4,1510.1 769.8,1504.7 775.3,1498.1 779.7,1493.7 787.4,1493.7 790.7,1498.1 795.0,1498.1 800.5,1493.7 802.7,1488.2 806.0,1485.4 813.7,1485.4 818.1,1489.8 822.5,1497.0 828.0,1502.5 833.5,1509.1 839.0,1515.6 843.4,1522.2 847.7,1529.9 853.2,1540.9 858.7,1548.6 864.2,1556.3 868.6,1562.9 874.1,1567.2 879.6,1570.5 881.8,1571.6 883.0,1573.0 883.0,1574.8" fill="#cf7f8f" clip-path="url(#Bc2)"/>
<polygon points="887.5,1574.8 887.5,1573.0 888.7,1570.6 914.8,1570.6 916.0,1573.0 916.0,1574.8" fill="#cf7f8f" clip-path="url(#Bc2)"/>
<polygon points="960.0,1574.8 960.0,1573.0 962.0,1571.2 968.2,1568.1 979.4,1566.8 983.1,1563.7 986.8,1561.9 996.8,1561.9 1000.5,1558.1 1006.7,1551.9 1011.7,1544.5 1016.6,1535.8 1020.4,1529.6 1025.3,1525.2 1030.9,1522.1 1035.3,1525.2 1039.0,1527.7 1046.5,1527.7 1051.4,1522.1 1056.4,1515.9 1060.1,1509.7 1066.3,1506.6 1075.0,1506.6 1078.8,1510.9 1088.7,1514.7 1098.6,1517.1 1107.3,1521.5 1119.8,1522.1 1126.0,1525.2 1137.1,1530.8 1144.6,1536.4 1153.3,1540.7 1162.0,1545.7 1167.0,1551.9 1173.2,1560.6 1178.1,1566.8 1181.9,1571.2 1183.0,1573.0 1183.0,1574.8" fill="#cf7f8f" clip-path="url(#Bc2)"/>
<polygon points="631.0,910 633.7,910 637.7,1171.2 635.0,1171.2" fill="#dccbea"/>
<polygon points="631.0,1046 633.7,1046 637.7,1307.2 635.0,1307.2" fill="#cdeedb"/>
<polygon points="631.0,1180 633.7,1180 637.7,1442.8 635.0,1442.8" fill="#fbe1cc"/>
<polygon points="631.0,1310 633.7,1310 637.7,1573.5 635.0,1573.5" fill="#e8cde0"/>
<polygon points="627.9000000000001,910 631.0,910 635.0,1171.2 631.9000000000001,1171.2" fill="#4e309a"/>
<polygon points="627.9000000000001,1046 631.0,1046 635.0,1307.2 631.9000000000001,1307.2" fill="#45ae63"/>
<polygon points="627.9000000000001,1180 631.0,1180 635.0,1442.8 631.9000000000001,1442.8" fill="#f07a2c"/>
<polygon points="627.9000000000001,1310 631.0,1310 635.0,1573.5 631.9000000000001,1573.5" fill="#82226a"/>
<polyline points="635.2,1170.5 641.7,1166.1 649.3,1163.9 668.9,1163.9 671.1,1161.2 677.6,1159.6 680.9,1155.8 689.6,1152.0 691.7,1149.8 703.7,1149.8 705.9,1146.0 714.6,1144.3 720.0,1140.5 725.4,1137.3 729.8,1134.6 742.8,1134.6 746.1,1139.5 754.8,1139.5 758.0,1134.6 761.3,1124.8 764.6,1116.1 768.9,1100.9 772.2,1088.9 776.5,1075.9 779.8,1068.3 783.0,1060.7 793.9,1060.7 798.3,1066.1 802.6,1073.7 807.0,1081.3 811.3,1088.9 817.8,1100.9 823.3,1110.7 827.6,1120.4 832.0,1127.0 836.3,1135.7 841.7,1144.3 847.2,1149.8 851.5,1155.2 859.1,1156.3 862.4,1161.2 872.2,1161.2 874.3,1163.9 882.0,1163.9 884.1,1161.2 905.4,1161.5 908.4,1166.1 918.7,1166.1 920.7,1169.1 934.1,1169.1 936.1,1166.1 943.3,1164.5 946.4,1161.5 953.5,1160.9 956.6,1156.8 963.8,1155.3 966.9,1150.7 974.0,1147.6 977.1,1145.1 1007.9,1145.1 1010.9,1141.0 1018.1,1137.4 1022.2,1133.8 1027.3,1129.2 1032.5,1123.0 1037.6,1113.8 1041.7,1105.6 1044.8,1096.4 1047.8,1088.2 1051.9,1080.0 1055.0,1071.8 1059.1,1066.6 1064.2,1065.1 1070.4,1068.7 1078.6,1073.8 1082.7,1076.9 1090.9,1080.5 1096.0,1075.9 1099.9,1069.5 1104.3,1061.9 1108.1,1055.8 1117.5,1055.8 1121.9,1067.3 1125.1,1079.4 1128.4,1091.5 1131.7,1104.7 1135.0,1117.9 1138.3,1125.6 1143.8,1133.2 1149.3,1130.0 1155.9,1124.5 1163.6,1124.5 1169.1,1131.0 1173.5,1139.8 1177.9,1146.4 1183.4,1153.0 1188.8,1158.5 1194.3,1165.1 1202.0,1166.7 1209.7,1171.4" fill="none" stroke="#4e309a" stroke-width="2.8" stroke-linejoin="miter" stroke-miterlimit="3"/>
<polyline points="1209.7,1171.4 1292.5,1171.4" fill="none" stroke="#7d62a8" stroke-width="2.5"/>
<polyline points="636.3,1307.2 645.0,1302.3 657.0,1299.6 663.5,1296.3 674.3,1293.0 680.9,1286.5 687.4,1280.0 692.8,1275.7 700.4,1276.7 705.9,1283.3 711.3,1288.7 716.7,1290.9 723.3,1284.3 728.7,1274.6 735.2,1263.7 739.6,1256.1 743.9,1249.6 748.3,1244.1 755.9,1240.9 761.3,1237.6 766.7,1236.0 772.2,1238.2 782.0,1238.2 786.3,1230.0 789.6,1221.3 793.9,1211.5 798.3,1201.7 803.7,1196.3 811.3,1196.3 815.7,1202.8 820.0,1211.5 825.4,1220.2 832.0,1227.8 838.5,1235.4 842.8,1245.2 847.2,1256.1 852.6,1267.0 857.0,1275.7 861.3,1284.3 866.7,1290.9 875.4,1295.2 883.0,1299.6 891.7,1302.8 901.7,1306.4 919.3,1302.9 948.6,1301.7 955.6,1297.0 962.6,1290.0 972.0,1283.0 981.4,1276.0 998.9,1275.4 1007.1,1267.8 1013.0,1258.4 1017.7,1254.9 1023.5,1254.9 1030.5,1258.4 1035.2,1253.7 1039.9,1244.3 1044.6,1230.3 1049.3,1213.9 1054.0,1202.2 1059.8,1194.0 1066.9,1190.5 1072.7,1182.3 1076.2,1172.9 1079.7,1160.0 1082.7,1151.7 1088.8,1148.2 1095.3,1155.8 1100.5,1163.7 1108.4,1158.4 1115.0,1163.7 1121.6,1171.6 1126.9,1178.2 1133.5,1183.5 1140.1,1192.7 1146.7,1201.9 1154.6,1205.9 1161.1,1211.1 1166.4,1219.1 1171.7,1234.9 1177.0,1248.0 1183.5,1255.9 1190.1,1263.8 1196.7,1273.1 1203.3,1283.6 1209.9,1292.8 1216.5,1300.1 1227.0,1307.3" fill="none" stroke="#45ae63" stroke-width="2.8" stroke-linejoin="miter" stroke-miterlimit="3"/>
<polyline points="1227.0,1307.3 1292.5,1307.3" fill="none" stroke="#72c08e" stroke-width="2.5"/>
<polyline points="636.4,1442.3 641.1,1438.2 649.3,1432.3 656.3,1430.0 664.5,1430.0 666.9,1432.3 690.3,1432.3 693.8,1427.7 704.3,1421.8 713.7,1421.2 719.6,1413.6 726.6,1404.2 732.4,1397.2 741.8,1387.8 747.7,1377.3 753.5,1367.9 760.5,1359.7 767.6,1349.2 772.3,1331.6 776.9,1309.4 782.0,1293.0 786.3,1287.6 792.8,1287.6 798.3,1295.2 803.7,1307.2 809.1,1314.8 813.5,1306.1 817.8,1294.1 823.3,1288.7 827.6,1295.2 830.9,1310.4 835.5,1335.1 840.2,1364.4 846.0,1390.2 851.9,1405.4 858.9,1418.3 867.1,1428.8 873.3,1434.2 876.5,1437.4 889.6,1437.4 892.0,1440.3 894.5,1437.4 928.7,1437.4 931.9,1440.3 939.3,1440.3 940.9,1437.4 952.3,1437.4 953.9,1435.0 985.7,1435.0 989.0,1432.1 997.1,1432.1 999.6,1429.3 1007.7,1426.8 1011.0,1421.9 1022.4,1421.9 1024.0,1424.4 1029.7,1424.4 1032.2,1421.1 1037.1,1417.0 1041.1,1413.0 1045.2,1404.8 1049.3,1395.9 1054.2,1389.3 1059.1,1383.6 1063.2,1379.6 1071.3,1379.6 1074.6,1384.4 1077.1,1389.5 1080.7,1399.3 1085.2,1404.6 1088.8,1410.0 1095.0,1410.0 1100.4,1404.6 1107.5,1401.1 1113.8,1399.3 1118.2,1393.9 1121.8,1389.5 1134.3,1389.5 1137.0,1394.8 1143.2,1396.6 1146.8,1400.2 1152.1,1402.4 1157.5,1405.5 1164.6,1406.9 1170.0,1410.0 1173.6,1414.5 1178.9,1420.7 1184.3,1426.1 1188.8,1430.5 1195.0,1434.1 1202.1,1436.8 1207.5,1439.5 1214.6,1443.0" fill="none" stroke="#f07a2c" stroke-width="2.8" stroke-linejoin="miter" stroke-miterlimit="3"/>
<polyline points="1214.6,1443.0 1292.3,1443.0" fill="none" stroke="#eb9a64" stroke-width="2.5"/>
<polyline points="703.0,1573.0 705.0,1571.6 710.5,1569.4 717.1,1566.1 721.5,1562.9 725.9,1560.7 730.3,1556.3 733.6,1551.9 739.1,1549.7 744.5,1544.2 748.9,1537.6 753.3,1529.9 757.7,1522.2 761.0,1516.7 765.4,1510.1 769.8,1504.7 775.3,1498.1 779.7,1493.7 787.4,1493.7 790.7,1498.1 795.0,1498.1 800.5,1493.7 802.7,1488.2 806.0,1485.4 813.7,1485.4 818.1,1489.8 822.5,1497.0 828.0,1502.5 833.5,1509.1 839.0,1515.6 843.4,1522.2 847.7,1529.9 853.2,1540.9 858.7,1548.6 864.2,1556.3 868.6,1562.9 874.1,1567.2 879.6,1570.5 881.8,1571.6 883.0,1573.0" fill="none" stroke="#82226a" stroke-width="2.8" stroke-linejoin="miter" stroke-miterlimit="3"/>
<polyline points="887.5,1573.0 888.7,1570.6 914.8,1570.6 916.0,1573.0" fill="none" stroke="#82226a" stroke-width="2.8" stroke-linejoin="miter" stroke-miterlimit="3"/>
<polyline points="960.0,1573.0 962.0,1571.2 968.2,1568.1 979.4,1566.8 983.1,1563.7 986.8,1561.9 996.8,1561.9 1000.5,1558.1 1006.7,1551.9 1011.7,1544.5 1016.6,1535.8 1020.4,1529.6 1025.3,1525.2 1030.9,1522.1 1035.3,1525.2 1039.0,1527.7 1046.5,1527.7 1051.4,1522.1 1056.4,1515.9 1060.1,1509.7 1066.3,1506.6 1075.0,1506.6 1078.8,1510.9 1088.7,1514.7 1098.6,1517.1 1107.3,1521.5 1119.8,1522.1 1126.0,1525.2 1137.1,1530.8 1144.6,1536.4 1153.3,1540.7 1162.0,1545.7 1167.0,1551.9 1173.2,1560.6 1178.1,1566.8 1181.9,1571.2 1183.0,1573.0" fill="none" stroke="#82226a" stroke-width="2.8" stroke-linejoin="miter" stroke-miterlimit="3"/>
<line x1="620.2" y1="893" x2="1293.25" y2="893" stroke="#000" stroke-width="1.8"/>
<line x1="621.5" y1="893" x2="621.5" y2="1574.8" stroke="#000" stroke-width="2.7"/>
<line x1="1292.3" y1="893" x2="1292.3" y2="1573.5" stroke="#000" stroke-width="1.9"/>
<line x1="620.15" y1="1573.5" x2="1293.25" y2="1573.5" stroke="#000" stroke-width="2.6"/>
<text x="536" y="42.5" font-size="52.5" text-anchor="start" >A</text>
<text x="536" y="892" font-size="52.5" text-anchor="start" >B</text>
<text x="844.5" y="791" font-size="52.5" text-anchor="start" >FITC (C3)</text>
<text x="692" y="1645.5" font-size="52.5" text-anchor="start" >Red flourescence (beads)</text>
<rect x="1756.2" y="566" width="57.59999999999991" height="143.89999999999998" fill="#cbcdcd"/>
<rect x="1853" y="423.5" width="58" height="286.4" fill="#cbcdcd"/>
<rect x="1850" y="423.5" width="64" height="2.4" fill="#d2d3d3"/>
<rect x="1950" y="424.1" width="58" height="285.79999999999995" fill="#cbcdcd"/>
<rect x="1947" y="424.1" width="64" height="2.4" fill="#d2d3d3"/>
<circle cx="1784.8" cy="613.4" r="11" fill="#f06b26" />
<circle cx="1785.5" cy="535.5" r="11" fill="#f06b26" />
<circle cx="1771" cy="542" r="11" fill="#f06b26" />
<circle cx="1798.6" cy="541.6" r="11" fill="#f06b26" />
<circle cx="1764" cy="569.5" r="11" fill="#f06b26" />
<circle cx="1777.5" cy="570.6" r="11" fill="#f06b26" />
<circle cx="1791.4" cy="570.6" r="11" fill="#f06b26" />
<circle cx="1805.7" cy="571" r="11" fill="#f06b26" />
<circle cx="1882.1" cy="199.8" r="11" fill="#4596ad" />
<circle cx="1861.4" cy="319" r="11" fill="#4596ad" />
<circle cx="1882.1" cy="300.4" r="11" fill="#4596ad" />
<circle cx="1902.7" cy="295.4" r="11" fill="#4596ad" />
<circle cx="1881.9" cy="486.7" r="11" fill="#4596ad" />
<circle cx="1872" cy="531" r="11" fill="#4596ad" />
<circle cx="1892.9" cy="549" r="11" fill="#4596ad" />
<circle cx="1882.2" cy="677" r="11" fill="#4596ad" />
<circle cx="1968.8" cy="254.3" r="11" fill="#7a3fa5" />
<circle cx="1989.3" cy="272.3" r="11" fill="#7a3fa5" />
<circle cx="1968.2" cy="438.2" r="11" fill="#7a3fa5" />
<circle cx="1988.4" cy="434.4" r="11" fill="#7a3fa5" />
<circle cx="1958.3" cy="476.6" r="11" fill="#7a3fa5" />
<circle cx="1979.2" cy="482.3" r="11" fill="#7a3fa5" />
<circle cx="1999.4" cy="487.6" r="11" fill="#7a3fa5" />
<circle cx="1979.2" cy="516.1" r="11" fill="#7a3fa5" />
<g clip-path="url(#pinkclipA)"><circle cx="1668" cy="708.3" r="11" fill="#b0679d"/><circle cx="1674" cy="708.3" r="11" fill="#b0679d"/><circle cx="1680" cy="708.3" r="11" fill="#b0679d"/><circle cx="1686" cy="708.3" r="11" fill="#b0679d"/><circle cx="1692" cy="708.3" r="11" fill="#b0679d"/><circle cx="1698" cy="708.3" r="11" fill="#b0679d"/><circle cx="1704" cy="708.3" r="11" fill="#b0679d"/><circle cx="1709" cy="708.3" r="11" fill="#b0679d"/></g>
<line x1="1784.4" y1="555.2" x2="1784.4" y2="573.4" stroke="#f06b26" stroke-width="2.6" stroke-linecap="butt"/>
<line x1="1767.9" y1="555.2" x2="1800.9" y2="555.2" stroke="#f06b26" stroke-width="2.6" stroke-linecap="butt"/>
<line x1="1767.9" y1="573.4" x2="1800.9" y2="573.4" stroke="#f06b26" stroke-width="2.6" stroke-linecap="butt"/>
<line x1="1881.9" y1="361.3" x2="1881.9" y2="477.7" stroke="#4596ad" stroke-width="2.6" stroke-linecap="butt"/>
<line x1="1865.4" y1="361.3" x2="1898.4" y2="361.3" stroke="#4596ad" stroke-width="2.6" stroke-linecap="butt"/>
<line x1="1865.4" y1="477.7" x2="1898.4" y2="477.7" stroke="#4596ad" stroke-width="2.6" stroke-linecap="butt"/>
<line x1="1978.7" y1="384.6" x2="1978.7" y2="456.4" stroke="#7a3fa5" stroke-width="2.6" stroke-linecap="butt"/>
<line x1="1962.2" y1="384.6" x2="1995.2" y2="384.6" stroke="#7a3fa5" stroke-width="2.6" stroke-linecap="butt"/>
<line x1="1962.2" y1="456.4" x2="1995.2" y2="456.4" stroke="#7a3fa5" stroke-width="2.6" stroke-linecap="butt"/>
<line x1="1623.5" y1="75" x2="1623.5" y2="715.5" stroke="#000" stroke-width="2.7" stroke-linecap="butt"/>
<line x1="1595.5" y1="79.5" x2="1623.5" y2="79.5" stroke="#000" stroke-width="2.7" stroke-linecap="butt"/>
<line x1="1595.5" y1="289.5" x2="1623.5" y2="289.5" stroke="#000" stroke-width="2.7" stroke-linecap="butt"/>
<line x1="1595.5" y1="499.8" x2="1623.5" y2="499.8" stroke="#000" stroke-width="2.7" stroke-linecap="butt"/>
<line x1="1595.6" y1="710.3" x2="2047.8" y2="710.3" stroke="#000" stroke-width="2.7" stroke-linecap="butt"/>
<line x1="1833.4" y1="710" x2="1833.4" y2="738.8" stroke="#000" stroke-width="2.7" stroke-linecap="butt"/>
<text x="1579.5" y="95.8" font-size="52.5" text-anchor="end" >6 000</text>
<text x="1579.5" y="305.8" font-size="52.5" text-anchor="end" >4 000</text>
<text x="1579.5" y="516.1" font-size="52.5" text-anchor="end" >2 000</text>
<text x="1579.5" y="726.1999999999999" font-size="52.5" text-anchor="end" >0</text>
<text x="0" y="0" font-size="52.5" text-anchor="middle" transform="translate(1435.6,394.8) rotate(-90)">MFI</text>
<text x="1774" y="792" font-size="52.5" text-anchor="start" >D169</text>
<line x1="1781.7" y1="109.3" x2="1959" y2="109.3" stroke="#1a1a1a" stroke-width="2.6" stroke-linecap="butt"/>
<line x1="1781.7" y1="169.3" x2="1870.6" y2="169.3" stroke="#1a1a1a" stroke-width="2.6" stroke-linecap="butt"/>
<g transform="translate(1855,83.5) scale(1.0)" fill="#1a1a1a"><path d="M-0.35,0 C-0.9,-3 -2.2,-6 -2.2,-8.1 A2.2,2.2 0 1 1 2.2,-8.1 C2.2,-6 0.9,-3 0.35,0 Z" transform="rotate(0)"/><path d="M-0.35,0 C-0.9,-3 -2.2,-6 -2.2,-8.1 A2.2,2.2 0 1 1 2.2,-8.1 C2.2,-6 0.9,-3 0.35,0 Z" transform="rotate(60)"/><path d="M-0.35,0 C-0.9,-3 -2.2,-6 -2.2,-8.1 A2.2,2.2 0 1 1 2.2,-8.1 C2.2,-6 0.9,-3 0.35,0 Z" transform="rotate(120)"/><path d="M-0.35,0 C-0.9,-3 -2.2,-6 -2.2,-8.1 A2.2,2.2 0 1 1 2.2,-8.1 C2.2,-6 0.9,-3 0.35,0 Z" transform="rotate(180)"/><path d="M-0.35,0 C-0.9,-3 -2.2,-6 -2.2,-8.1 A2.2,2.2 0 1 1 2.2,-8.1 C2.2,-6 0.9,-3 0.35,0 Z" transform="rotate(240)"/><path d="M-0.35,0 C-0.9,-3 -2.2,-6 -2.2,-8.1 A2.2,2.2 0 1 1 2.2,-8.1 C2.2,-6 0.9,-3 0.35,0 Z" transform="rotate(300)"/></g>
<g transform="translate(1882,83.5) scale(1.0)" fill="#1a1a1a"><path d="M-0.35,0 C-0.9,-3 -2.2,-6 -2.2,-8.1 A2.2,2.2 0 1 1 2.2,-8.1 C2.2,-6 0.9,-3 0.35,0 Z" transform="rotate(0)"/><path d="M-0.35,0 C-0.9,-3 -2.2,-6 -2.2,-8.1 A2.2,2.2 0 1 1 2.2,-8.1 C2.2,-6 0.9,-3 0.35,0 Z" transform="rotate(60)"/><path d="M-0.35,0 C-0.9,-3 -2.2,-6 -2.2,-8.1 A2.2,2.2 0 1 1 2.2,-8.1 C2.2,-6 0.9,-3 0.35,0 Z" transform="rotate(120)"/><path d="M-0.35,0 C-0.9,-3 -2.2,-6 -2.2,-8.1 A2.2,2.2 0 1 1 2.2,-8.1 C2.2,-6 0.9,-3 0.35,0 Z" transform="rotate(180)"/><path d="M-0.35,0 C-0.9,-3 -2.2,-6 -2.2,-8.1 A2.2,2.2 0 1 1 2.2,-8.1 C2.2,-6 0.9,-3 0.35,0 Z" transform="rotate(240)"/><path d="M-0.35,0 C-0.9,-3 -2.2,-6 -2.2,-8.1 A2.2,2.2 0 1 1 2.2,-8.1 C2.2,-6 0.9,-3 0.35,0 Z" transform="rotate(300)"/></g>
<g transform="translate(1829,144.3) scale(1.0)" fill="#1a1a1a"><path d="M-0.35,0 C-0.9,-3 -2.2,-6 -2.2,-8.1 A2.2,2.2 0 1 1 2.2,-8.1 C2.2,-6 0.9,-3 0.35,0 Z" transform="rotate(0)"/><path d="M-0.35,0 C-0.9,-3 -2.2,-6 -2.2,-8.1 A2.2,2.2 0 1 1 2.2,-8.1 C2.2,-6 0.9,-3 0.35,0 Z" transform="rotate(60)"/><path d="M-0.35,0 C-0.9,-3 -2.2,-6 -2.2,-8.1 A2.2,2.2 0 1 1 2.2,-8.1 C2.2,-6 0.9,-3 0.35,0 Z" transform="rotate(120)"/><path d="M-0.35,0 C-0.9,-3 -2.2,-6 -2.2,-8.1 A2.2,2.2 0 1 1 2.2,-8.1 C2.2,-6 0.9,-3 0.35,0 Z" transform="rotate(180)"/><path d="M-0.35,0 C-0.9,-3 -2.2,-6 -2.2,-8.1 A2.2,2.2 0 1 1 2.2,-8.1 C2.2,-6 0.9,-3 0.35,0 Z" transform="rotate(240)"/><path d="M-0.35,0 C-0.9,-3 -2.2,-6 -2.2,-8.1 A2.2,2.2 0 1 1 2.2,-8.1 C2.2,-6 0.9,-3 0.35,0 Z" transform="rotate(300)"/></g>
<circle cx="2158.1" cy="179.1" r="10.2" fill="#b0679d" />
<circle cx="2158.1" cy="241.7" r="10.2" fill="#f06b26" />
<circle cx="2158.1" cy="317.9" r="10.2" fill="#4596ad" />
<circle cx="2158.1" cy="394.3" r="10.2" fill="#7a3fa5" />
<text x="2184.8" y="194.5" font-size="52.5" text-anchor="start" >3×PBS</text>
<text x="2184.8" y="256.4" font-size="52.5" text-anchor="start" >3×INA</text>
<text x="2184.8" y="333.2" font-size="52.5" text-anchor="start" >2×INA+1×Ad5 (im)</text>
<text x="2184.8" y="409" font-size="52.5" text-anchor="start" >2×INA+1×Ad5 (in)</text>
<rect x="1665.2" y="1445.4" width="61.799999999999955" height="126.69999999999982" fill="#cbcdcd"/>
<rect x="1662.2" y="1445.4" width="67.79999999999995" height="2.4" fill="#d2d3d3"/>
<rect x="1768.2" y="1479" width="61.799999999999955" height="93.09999999999991" fill="#cbcdcd"/>
<rect x="1765.2" y="1479" width="67.79999999999995" height="2.4" fill="#d2d3d3"/>
<rect x="1872.1" y="1245.5" width="61.90000000000009" height="326.5999999999999" fill="#cbcdcd"/>
<rect x="1869.1" y="1245.5" width="67.90000000000009" height="2.4" fill="#d2d3d3"/>
<rect x="1975.1" y="1349.2" width="61.5" height="222.89999999999986" fill="#cbcdcd"/>
<rect x="1972.1" y="1349.2" width="67.5" height="2.4" fill="#d2d3d3"/>
<circle cx="1695.6" cy="1280" r="11" fill="#b0679d" />
<circle cx="1695.6" cy="1344" r="11" fill="#b0679d" />
<circle cx="1695.6" cy="1383.6" r="11" fill="#b0679d" />
<circle cx="1695.6" cy="1492.2" r="11" fill="#b0679d" />
<circle cx="1695.6" cy="1534.6" r="11" fill="#b0679d" />
<g clip-path="url(#clipB)"><circle cx="1799" cy="1304.6" r="11" fill="#f06b26"/><circle cx="1810.6" cy="1443.6" r="11" fill="#f06b26"/><circle cx="1787.6" cy="1455.3" r="11" fill="#f06b26"/><circle cx="1776.8" cy="1479.2" r="11" fill="#f06b26"/><circle cx="1798.3" cy="1481.4" r="11" fill="#f06b26"/><circle cx="1820.8" cy="1503" r="11" fill="#f06b26"/><circle cx="1788.2" cy="1565.3" r="11" fill="#f06b26"/><circle cx="1809.7" cy="1565.3" r="11" fill="#f06b26"/></g>
<circle cx="1903.1" cy="1028" r="11" fill="#4596ad" />
<circle cx="1903.1" cy="1059.6" r="11" fill="#4596ad" />
<circle cx="1914" cy="1192" r="11" fill="#4596ad" />
<circle cx="1892.5" cy="1206.8" r="11" fill="#4596ad" />
<circle cx="1902.9" cy="1330.7" r="11" fill="#4596ad" />
<circle cx="1880.7" cy="1356.2" r="11" fill="#4596ad" />
<circle cx="1902.9" cy="1378.4" r="11" fill="#4596ad" />
<circle cx="1925" cy="1382" r="11" fill="#4596ad" />
<circle cx="2006.4" cy="1006.5" r="11" fill="#7a3fa5" />
<circle cx="2006.4" cy="1107.7" r="11" fill="#7a3fa5" />
<circle cx="2005.9" cy="1286.1" r="11" fill="#7a3fa5" />
<circle cx="2005.9" cy="1357.8" r="11" fill="#7a3fa5" />
<circle cx="1984.4" cy="1477.7" r="11" fill="#7a3fa5" />
<circle cx="2005.9" cy="1476.8" r="11" fill="#7a3fa5" />
<circle cx="2028" cy="1483.5" r="11" fill="#7a3fa5" />
<circle cx="2005.9" cy="1559.8" r="11" fill="#7a3fa5" />
<line x1="1695.6" y1="1267.7" x2="1695.6" y2="1515.2" stroke="#b0679d" stroke-width="2.6" stroke-linecap="butt"/>
<line x1="1678.1" y1="1267.7" x2="1713.1" y2="1267.7" stroke="#b0679d" stroke-width="2.6" stroke-linecap="butt"/>
<line x1="1678.1" y1="1515.2" x2="1713.1" y2="1515.2" stroke="#b0679d" stroke-width="2.6" stroke-linecap="butt"/>
<line x1="1798.3" y1="1445.1" x2="1798.3" y2="1504.5" stroke="#f06b26" stroke-width="2.6" stroke-linecap="butt"/>
<line x1="1780.8" y1="1445.1" x2="1815.8" y2="1445.1" stroke="#f06b26" stroke-width="2.6" stroke-linecap="butt"/>
<line x1="1780.8" y1="1504.5" x2="1815.8" y2="1504.5" stroke="#f06b26" stroke-width="2.6" stroke-linecap="butt"/>
<line x1="1902.9" y1="1191" x2="1902.9" y2="1292.9" stroke="#4596ad" stroke-width="2.6" stroke-linecap="butt"/>
<line x1="1885.4" y1="1191" x2="1920.4" y2="1191" stroke="#4596ad" stroke-width="2.6" stroke-linecap="butt"/>
<line x1="1885.4" y1="1292.9" x2="1920.4" y2="1292.9" stroke="#4596ad" stroke-width="2.6" stroke-linecap="butt"/>
<line x1="2005.9" y1="1274.4" x2="2005.9" y2="1414.4" stroke="#7a3fa5" stroke-width="2.6" stroke-linecap="butt"/>
<line x1="1988.4" y1="1274.4" x2="2023.4" y2="1274.4" stroke="#7a3fa5" stroke-width="2.6" stroke-linecap="butt"/>
<line x1="1988.4" y1="1414.4" x2="2023.4" y2="1414.4" stroke="#7a3fa5" stroke-width="2.6" stroke-linecap="butt"/>
<line x1="1626.6" y1="894" x2="1626.6" y2="1576.7" stroke="#000" stroke-width="2.7" stroke-linecap="butt"/>
<line x1="1596.8" y1="898" x2="1626.6" y2="898" stroke="#000" stroke-width="2.7" stroke-linecap="butt"/>
<line x1="1596.8" y1="1066.7" x2="1626.6" y2="1066.7" stroke="#000" stroke-width="2.7" stroke-linecap="butt"/>
<line x1="1596.8" y1="1235.4" x2="1626.6" y2="1235.4" stroke="#000" stroke-width="2.7" stroke-linecap="butt"/>
<line x1="1596.8" y1="1404.1" x2="1626.6" y2="1404.1" stroke="#000" stroke-width="2.7" stroke-linecap="butt"/>
<line x1="1596.9" y1="1572.4" x2="2080.3" y2="1572.4" stroke="#000" stroke-width="2.7" stroke-linecap="butt"/>
<line x1="1850" y1="1572" x2="1850" y2="1601.3" stroke="#000" stroke-width="2.7" stroke-linecap="butt"/>
<text x="1579.5" y="914.3" font-size="52.5" text-anchor="end" >4 000</text>
<text x="1579.5" y="1083.0" font-size="52.5" text-anchor="end" >3 000</text>
<text x="1579.5" y="1251.7" font-size="52.5" text-anchor="end" >2 000</text>
<text x="1579.5" y="1420.3999999999999" font-size="52.5" text-anchor="end" >1 000</text>
<text x="1579.5" y="1589.1" font-size="52.5" text-anchor="end" >0</text>
<text x="0" y="0" font-size="52.5" text-anchor="middle" transform="translate(1421.4,1234.8) rotate(-90)">Phage score</text>
<text x="1790.5" y="1652" font-size="52.5" text-anchor="start" >D169</text>
<line x1="1806.8" y1="931.3" x2="1895.3" y2="931.3" stroke="#1a1a1a" stroke-width="2.6" stroke-linecap="butt"/>
<g transform="translate(1839,905.3) scale(1.0)" fill="#1a1a1a"><path d="M-0.35,0 C-0.9,-3 -2.2,-6 -2.2,-8.1 A2.2,2.2 0 1 1 2.2,-8.1 C2.2,-6 0.9,-3 0.35,0 Z" transform="rotate(0)"/><path d="M-0.35,0 C-0.9,-3 -2.2,-6 -2.2,-8.1 A2.2,2.2 0 1 1 2.2,-8.1 C2.2,-6 0.9,-3 0.35,0 Z" transform="rotate(60)"/><path d="M-0.35,0 C-0.9,-3 -2.2,-6 -2.2,-8.1 A2.2,2.2 0 1 1 2.2,-8.1 C2.2,-6 0.9,-3 0.35,0 Z" transform="rotate(120)"/><path d="M-0.35,0 C-0.9,-3 -2.2,-6 -2.2,-8.1 A2.2,2.2 0 1 1 2.2,-8.1 C2.2,-6 0.9,-3 0.35,0 Z" transform="rotate(180)"/><path d="M-0.35,0 C-0.9,-3 -2.2,-6 -2.2,-8.1 A2.2,2.2 0 1 1 2.2,-8.1 C2.2,-6 0.9,-3 0.35,0 Z" transform="rotate(240)"/><path d="M-0.35,0 C-0.9,-3 -2.2,-6 -2.2,-8.1 A2.2,2.2 0 1 1 2.2,-8.1 C2.2,-6 0.9,-3 0.35,0 Z" transform="rotate(300)"/></g>
<g transform="translate(1865,905.3) scale(1.0)" fill="#1a1a1a"><path d="M-0.35,0 C-0.9,-3 -2.2,-6 -2.2,-8.1 A2.2,2.2 0 1 1 2.2,-8.1 C2.2,-6 0.9,-3 0.35,0 Z" transform="rotate(0)"/><path d="M-0.35,0 C-0.9,-3 -2.2,-6 -2.2,-8.1 A2.2,2.2 0 1 1 2.2,-8.1 C2.2,-6 0.9,-3 0.35,0 Z" transform="rotate(60)"/><path d="M-0.35,0 C-0.9,-3 -2.2,-6 -2.2,-8.1 A2.2,2.2 0 1 1 2.2,-8.1 C2.2,-6 0.9,-3 0.35,0 Z" transform="rotate(120)"/><path d="M-0.35,0 C-0.9,-3 -2.2,-6 -2.2,-8.1 A2.2,2.2 0 1 1 2.2,-8.1 C2.2,-6 0.9,-3 0.35,0 Z" transform="rotate(180)"/><path d="M-0.35,0 C-0.9,-3 -2.2,-6 -2.2,-8.1 A2.2,2.2 0 1 1 2.2,-8.1 C2.2,-6 0.9,-3 0.35,0 Z" transform="rotate(240)"/><path d="M-0.35,0 C-0.9,-3 -2.2,-6 -2.2,-8.1 A2.2,2.2 0 1 1 2.2,-8.1 C2.2,-6 0.9,-3 0.35,0 Z" transform="rotate(300)"/></g>
<circle cx="2158.1" cy="955.6" r="10.2" fill="#b0679d" />
<circle cx="2158.1" cy="1018.2" r="10.2" fill="#f06b26" />
<circle cx="2158.1" cy="1094.6" r="10.2" fill="#4596ad" />
<circle cx="2158.1" cy="1171" r="10.2" fill="#7a3fa5" />
<text x="2182" y="970" font-size="52.5" text-anchor="start" >3×PBS</text>
<text x="2182" y="1033.1" font-size="52.5" text-anchor="start" >3×INA</text>
<text x="2182" y="1110" font-size="52.5" text-anchor="start" >2×INA+1×Ad5 (im)</text>
<text x="2182" y="1186.1" font-size="52.5" text-anchor="start" >2×INA+1×Ad5 (in)</text>
</svg></body></html>
